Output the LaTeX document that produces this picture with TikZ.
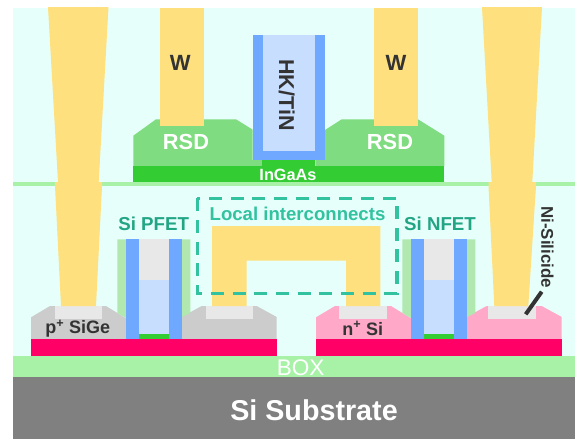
\documentclass[tikz,border=0pt]{standalone}
\usepackage{fontspec}
\setmainfont{Liberation Sans}
\definecolor{mint}{HTML}{E6FFFA}
\definecolor{boxgreen}{HTML}{A8F2A8}
\definecolor{spacergreen}{HTML}{B0E8B0}
\definecolor{rsdgreen}{HTML}{80DC80}
\definecolor{channel}{HTML}{33CC33}
\definecolor{metal}{HTML}{FFE07F}
\definecolor{hk}{HTML}{6FA8FF}
\definecolor{tin}{HTML}{C8DEFF}
\definecolor{silicide}{HTML}{E8E8E8}
\definecolor{sige}{HTML}{CCCCCC}
\definecolor{nsi}{HTML}{FFA8C8}
\definecolor{soi}{HTML}{FF0066}
\definecolor{subst}{HTML}{808080}
\definecolor{dashc}{HTML}{33C2A0}
\definecolor{fetc}{HTML}{22A585}
\definecolor{ink}{HTML}{333333}
\newcommand{\fs}[1]{\fontsize{#1}{#1}\selectfont}
\tikzset{
  txt/.style={inner sep=0pt,outer sep=0pt,font=\bfseries},
}
\begin{document}
\begin{tikzpicture}[x=1pt,y=-1pt]
\useasboundingbox (0,0) rectangle (575,439);
\fill[white] (0,0) rectangle (575,439);
% background
\fill[mint] (13,8) rectangle (575,357);
\fill[boxgreen] (13,181.7) rectangle (575,186);
% upper device
\fill[rsdgreen] (133.3,166) -- (133.3,135.7) -- (156,119.3) -- (236,119.3) -- (252.7,129.7) -- (252.7,160) -- (262.3,160) -- (262.3,166) -- cycle;
\fill[rsdgreen] (444.3,166) -- (444.3,135.7) -- (418,119.3) -- (341.7,119.3) -- (325,130) -- (325,160) -- (315.3,160) -- (315.3,166) -- cycle;
\fill[channel] (133.3,166) rectangle (444.3,181.7);
\fill[channel] (262.3,159) rectangle (315.3,166);
\fill[metal] (160,8) rectangle (204.3,125.5);
\fill[metal] (373.7,8) rectangle (417.7,125.5);
\fill[hk] (252.7,35) rectangle (325,159.7);
\fill[tin] (262.7,35) rectangle (314.7,150.7);
% lower source/drain
\fill[sige] (31,339) -- (31,317.3) -- (50,306) -- (106,306) -- (126,318.3) -- (126,339) -- cycle;
\fill[sige] (182,339) -- (182,316.7) -- (201.7,306) -- (256.7,306) -- (276.7,317) -- (276.7,339) -- cycle;
\fill[nsi] (316,339) -- (316,317.3) -- (335,306) -- (391,306) -- (411,318.3) -- (411,339) -- cycle;
\fill[nsi] (467,339) -- (467,316.7) -- (486.7,306) -- (541.7,306) -- (561.7,317) -- (561.7,339) -- cycle;
\fill[silicide] (55,306) rectangle (102,318.7);
\fill[silicide] (205.7,306) rectangle (253,318.7);
\fill[silicide] (339.3,306) rectangle (387,318.7);
\fill[silicide] (488.3,306) rectangle (535.7,318.7);
\fill[soi] (31,338.5) rectangle (277,355.5);
\fill[soi] (316,338.5) rectangle (562,355.5);
% gate stacks
\fill[spacergreen] (117.3,239.3) -- (190.3,239.3) -- (190.3,313) -- (182,317) -- (182,330) -- (126,330) -- (126,318) -- (117.3,313) -- cycle;
\fill[hk] (126,239.3) rectangle (182,338.5);
\fill[silicide] (138.7,239.3) rectangle (169,280.3);
\fill[tin] (138.7,280.3) rectangle (169,334);
\fill[channel] (138.7,334) rectangle (169,338.5);
\fill[spacergreen] (402.3,239.3) -- (475.3,239.3) -- (475.3,313) -- (467,317) -- (467,330) -- (411,330) -- (411,318) -- (402.3,313) -- cycle;
\fill[hk] (411,239.3) rectangle (467,338.5);
\fill[silicide] (423.7,239.3) rectangle (454,280.3);
\fill[tin] (423.7,280.3) rectangle (454,334);
\fill[channel] (423.7,334) rectangle (454,338.5);
% tall contacts
\fill[metal] (48,7) -- (108.5,7) -- (98.7,182) -- (102,182) -- (102,186) -- (96,306) -- (61,306) -- (55,186) -- (55,182) -- (58,182) -- cycle;
\fill[metal] (482,7) -- (542,7) -- (532.3,182) -- (536,182) -- (536,186) -- (528.3,306) -- (494.3,306) -- (488.5,186) -- (488.5,182) -- (491.7,182) -- cycle;
% local interconnect
\fill[metal] (212,306) -- (212,226) -- (380.3,226) -- (380.3,306) -- (346,306) -- (346,260.7) -- (246.7,260.7) -- (246.7,306) -- cycle;
\draw[dashc,line width=3.6pt,dash pattern=on 13pt off 8.7pt] (197.3,198.3) rectangle (396.7,293.3);
% base
\fill[boxgreen] (13,355.5) rectangle (575,377);
\fill[subst] (13,377) rectangle (575,439);
% leader
\coordinate (leadtop) at (541.7,291.7);
\coordinate (leadend) at (525.7,314.3);
\draw[ink,line width=4pt] (leadtop) -- (leadend);
% labels
\node[txt,text=ink] (w1) at (180.3,62.5) {\fs{22}W};
\node[txt,text=ink] (w2) at (396,62.5) {\fs{22}W};
\node[txt,text=white] (rsd1) at (186,141.5) {\fs{21.8}RSD};
\node[txt,text=white] (rsd2) at (390,141.5) {\fs{21.8}RSD};
\node[txt,text=ink,rotate=-90] (hktin) at (286.7,95) {\fs{21.5}HK/TiN};
\node[txt,text=white] (ingaas) at (288,174.5) {\fs{16.3}InGaAs};
\node[txt,text=dashc] (local) at (297.5,214) {\fs{18.6}Local interconnects};
\node[txt,text=fetc] (pfet) at (153.7,224) {\fs{18.7}Si PFET};
\node[txt,text=fetc] (nfet) at (440,224) {\fs{18.7}Si NFET};
\node[txt,text=ink] (sige) at (77.7,328.5) {\fs{18}p\textsuperscript{+} SiGe};
\node[txt,text=ink] (nsilabel) at (362.7,328.5) {\fs{18}n\textsuperscript{+} Si};
\node[txt,text=ink,rotate=-90] (nisi) at (547.3,247.3) {\fs{16.9}Ni-Silicide};
\node[txt,text=white,font=\normalfont] (box) at (300.7,368) {\fs{22.6}BOX};
\node[txt,text=white] (substrate) at (314,410) {\fs{28.7}Si Substrate};
\end{tikzpicture}
\end{document}
